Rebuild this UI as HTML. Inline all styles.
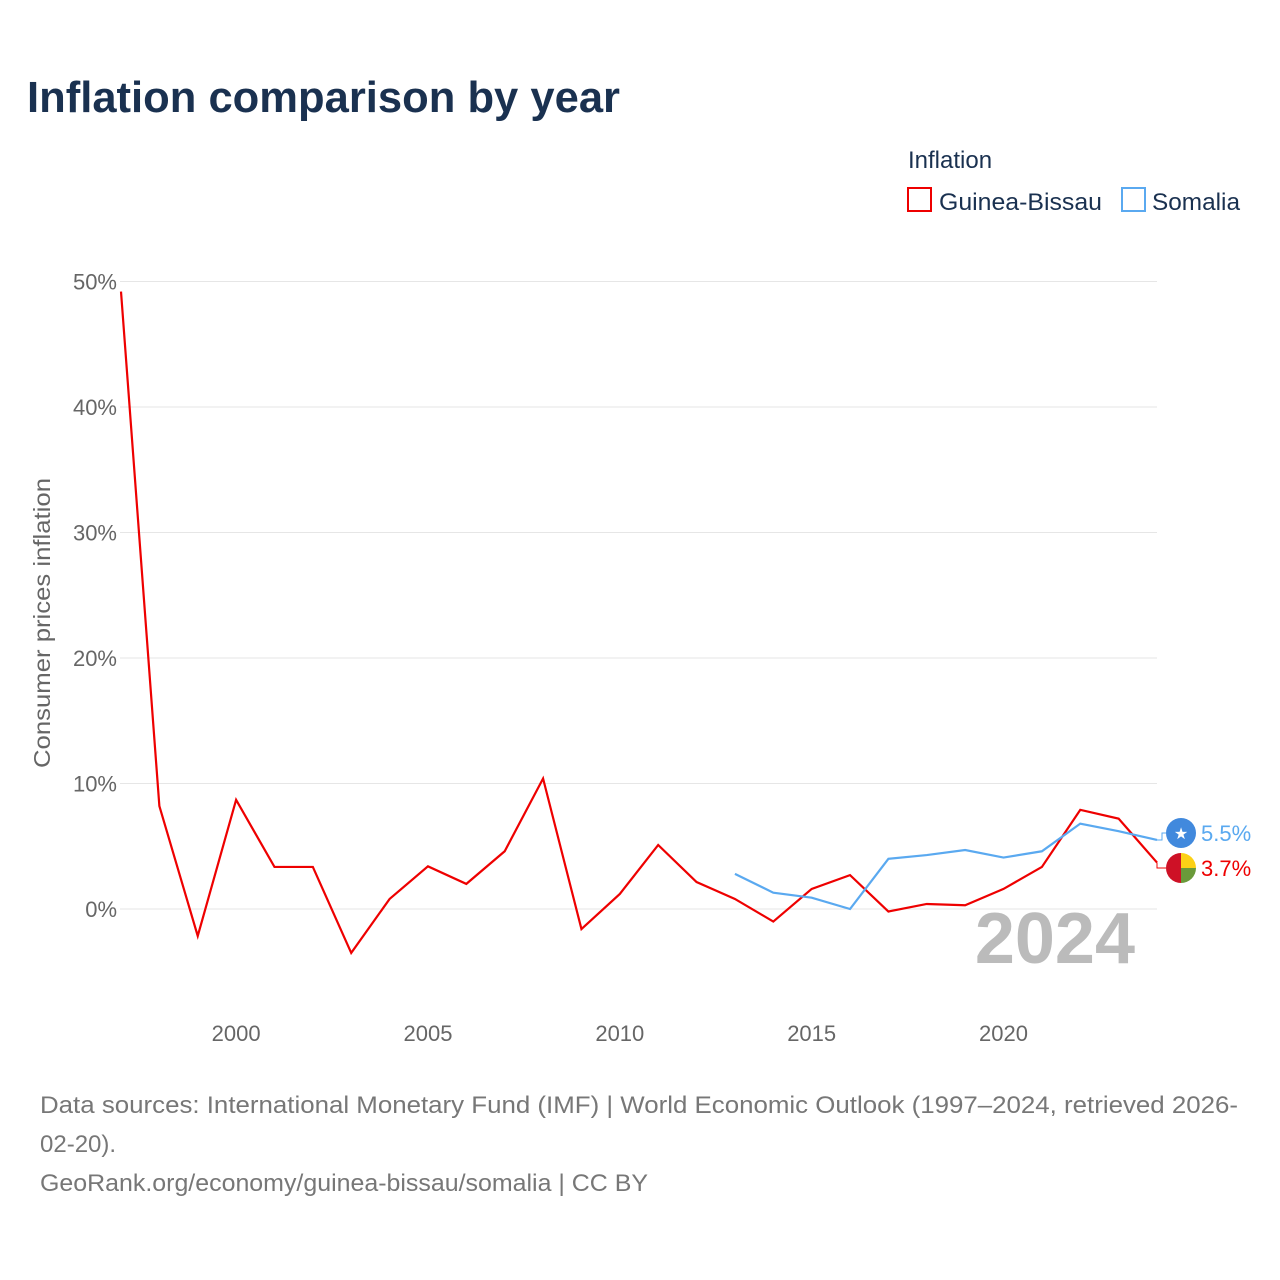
<!DOCTYPE html>
<html><head><meta charset="utf-8"><style>
body{margin:0;background:#fff;font-family:"Liberation Sans",sans-serif;}
#wrap{position:relative;width:1280px;height:1280px;overflow:hidden;}
</style></head><body>
<div id="wrap">
<svg id="svg" width="1280" height="1280" xmlns="http://www.w3.org/2000/svg">
<text x="27" y="112" font-size="44" font-weight="bold" fill="#1a3150" textLength="593" lengthAdjust="spacingAndGlyphs">Inflation comparison by year</text>
<text x="908" y="168" font-size="24" fill="#1a3150">Inflation</text>
<g><rect x="908" y="188" width="23" height="23" fill="none" stroke="#e00" stroke-width="2"/><text x="939" y="210" font-size="24" fill="#1a3150" textLength="163" lengthAdjust="spacingAndGlyphs">Guinea-Bissau</text></g>
<g><rect x="1122" y="188" width="23" height="23" fill="none" stroke="#5aa9f0" stroke-width="2"/><text x="1152" y="210" font-size="24" fill="#1a3150" textLength="88" lengthAdjust="spacingAndGlyphs">Somalia</text></g>
<g id="grid"></g>
<text transform="translate(50,623) rotate(-90)" text-anchor="middle" font-size="23" fill="#666" textLength="290" lengthAdjust="spacingAndGlyphs">Consumer prices inflation</text>
<text x="1135" y="963" text-anchor="end" font-size="72" font-weight="bold" fill="#bbb">2024</text>
<g id="series"></g>
<text x="40" y="1113" font-size="24" fill="#777" textLength="1198" lengthAdjust="spacingAndGlyphs">Data sources: International Monetary Fund (IMF) | World Economic Outlook (1997–2024, retrieved 2026-</text>
<text x="40" y="1152" font-size="24" fill="#777">02-20).</text>
<text x="40" y="1191" font-size="24" fill="#777" textLength="608" lengthAdjust="spacingAndGlyphs">GeoRank.org/economy/guinea-bissau/somalia | CC BY</text>
</svg></div>
<script>
const years=[1997,1998,1999,2000,2001,2002,2003,2004,2005,2006,2007,2008,2009,2010,2011,2012,2013,2014,2015,2016,2017,2018,2019,2020,2021,2022,2023,2024];
const guineaBissau=[49.2,8.2,-2.15,8.7,3.35,3.35,-3.5,0.8,3.4,2.0,4.6,10.4,-1.6,1.2,5.1,2.15,0.8,-1.0,1.6,2.7,-0.2,0.4,0.3,1.6,3.35,7.9,7.2,3.7];
const somaliaYears=[2013,2014,2015,2016,2017,2018,2019,2020,2021,2022,2023,2024];
const somalia=[2.8,1.3,0.9,0.0,4.0,4.3,4.7,4.1,4.6,6.8,6.2,5.5];
const yTicks=[0,10,20,30,40,50];
const xTicks=[2000,2005,2010,2015,2020];
const NS="http://www.w3.org/2000/svg";
const x=v=>121+(v-1997)*(1157-121)/27;
const y=v=>909-v*12.55;
const grid=document.getElementById('grid'),series=document.getElementById('series');
function mk(tag,attrs,parent){const e=document.createElementNS(NS,tag);for(const k in attrs)e.setAttribute(k,attrs[k]);parent.appendChild(e);return e;}
yTicks.forEach(t=>{
 const l=mk('line',{x1:120,x2:1157,y1:y(t),y2:y(t),stroke:'#e6e6e6','stroke-width':1},grid);
 
 
 const tx=mk('text',{x:117,y:y(t)+8,'text-anchor':'end','font-size':22,fill:'#666'},grid);tx.textContent=t+'%';
 
 
});
xTicks.forEach(t=>{
 const tx=mk('text',{x:x(t),y:1041,'text-anchor':'middle','font-size':22,fill:'#666'},grid);tx.textContent=t;
 
 
});
const gb=mk('polyline',{points:years.map((yr,i)=>x(yr)+','+y(guineaBissau[i])).join(' '),fill:'none',stroke:'#e00','stroke-width':2.2},series);


const so=mk('polyline',{points:somaliaYears.map((yr,i)=>x(yr)+','+y(somalia[i])).join(' '),fill:'none',stroke:'#5aa9f0','stroke-width':2.2},series);


const ls=somalia[somalia.length-1],lg=guineaBissau[guineaBissau.length-1];
const sy=833,gy=868;
mk('polyline',{points:`${x(2024)},${y(ls)} 1162,${y(ls)} 1162,${sy} 1166,${sy}`,fill:'none',stroke:'#5aa9f0','stroke-width':1},series);
mk('polyline',{points:`${x(2024)},${y(lg)} 1157,${y(lg)} 1157,${gy} 1166,${gy}`,fill:'none',stroke:'#e00','stroke-width':1},series);
const f1=mk('circle',{cx:1181,cy:sy,r:15,fill:'#4189dd'},series);


const st=mk('text',{x:1181,y:sy+6,'text-anchor':'middle','font-size':16,fill:'#fff'},series);st.textContent='★';
const g2=mk('g',{},series);


mk('path',{d:`M1181,${gy-15} A15,15 0 0,0 1181,${gy+15} Z`,fill:'#ce1126'},g2);
mk('path',{d:`M1181,${gy-15} A15,15 0 0,1 1196,${gy} L1181,${gy} Z`,fill:'#fcd116'},g2);
mk('path',{d:`M1181,${gy} L1196,${gy} A15,15 0 0,1 1181,${gy+15} Z`,fill:'#6a9a3a'},g2);
const l1=mk('text',{x:1201,y:sy+8,'font-size':22,fill:'#5aa9f0'},series);l1.textContent=ls.toFixed(1)+'%';


const l2=mk('text',{x:1201,y:gy+8,'font-size':22,fill:'#e00'},series);l2.textContent=lg.toFixed(1)+'%';


</script>
</body></html>
